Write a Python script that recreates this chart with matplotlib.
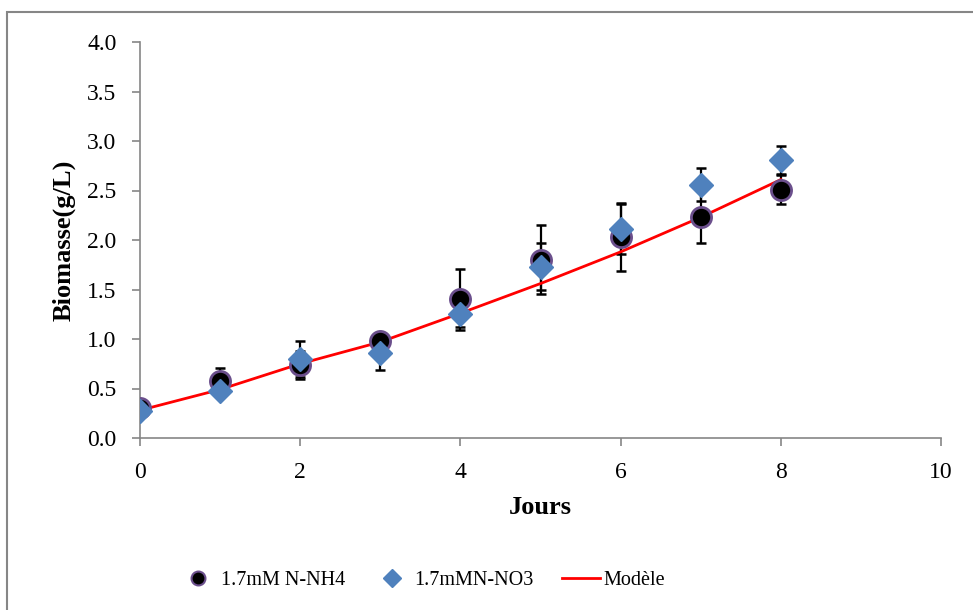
import matplotlib.pyplot as plt
from matplotlib.patches import Rectangle
from matplotlib.lines import Line2D

plt.rcParams.update({
    'font.family': 'Liberation Serif',
    'font.size': 14,
    'figure.dpi': 100,
})

# data
jours = [0, 1, 2, 3, 4, 5, 6, 7, 8]
nh4 = [0.30, 0.58, 0.74, 0.98, 1.40, 1.80, 2.03, 2.23, 2.51]
nh4_err = [0.02, 0.13, 0.14, 0.03, 0.31, 0.35, 0.34, 0.26, 0.15]
no3 = [0.27, 0.47, 0.80, 0.86, 1.25, 1.73, 2.11, 2.56, 2.81]
no3_err = [0.02, 0.03, 0.18, 0.17, 0.13, 0.24, 0.25, 0.17, 0.14]
modele = [0.28, 0.49, 0.75, 0.97, 1.26, 1.56, 1.88, 2.23, 2.61]

gray = '#868686'
purple = '#6b4f8c'
blue = '#4f81bd'

fig = plt.figure(figsize=(9.73, 6.10))
ax = fig.add_axes([140 / 973, 1 - 438 / 610, 801 / 973, 396 / 610])

ax.errorbar(jours, nh4, yerr=nh4_err, fmt='none', ecolor='black', elinewidth=1.6,
            capsize=3.8, capthick=1.8, zorder=2)
ax.errorbar(jours, no3, yerr=no3_err, fmt='none', ecolor='black', elinewidth=1.6,
            capsize=3.8, capthick=1.8, zorder=2)
ax.plot(jours, modele, color='#ff0000', linewidth=2, zorder=3)
ax.plot(jours, nh4, linestyle='none', marker='o', markersize=14.5, markerfacecolor='black',
        markeredgecolor=purple, markeredgewidth=2, zorder=4)
ax.plot(jours, no3, linestyle='none', marker='D', markersize=12, markerfacecolor=blue,
        markeredgecolor=blue, zorder=5)

ax.set_xlim(0, 10)
ax.set_ylim(0, 4.0)
ax.set_xticks(range(0, 11, 2))
ax.set_yticks([i * 0.5 for i in range(9)])
ax.set_yticklabels([f'{i * 0.5:.1f}' for i in range(9)])
ax.tick_params(direction='out', length=5.5, color=gray, width=1.2, labelsize=17)
ax.tick_params(axis='x', pad=12)
ax.tick_params(axis='y', pad=11.5)
for side in ['top', 'right']:
    ax.spines[side].set_visible(False)
for side in ['left', 'bottom']:
    ax.spines[side].set_color(gray)
    ax.spines[side].set_linewidth(1.2)

ax.set_xlabel('Jours', fontsize=19, fontweight='bold', va='center')
ax.set_ylabel('Biomasse(g/L)', fontsize=19, fontweight='bold', va='center')
ax.xaxis.set_label_coords(0.5, (438 - 508) / 396)
ax.yaxis.set_label_coords((64 - 140) / 801, 0.5)

handles = [
    Line2D([], [], linestyle='none', marker='o', markersize=10, markerfacecolor='black',
           markeredgecolor=purple, markeredgewidth=1.5),
    Line2D([], [], linestyle='none', marker='D', markersize=9, markerfacecolor=blue,
           markeredgecolor=blue),
    Line2D([], [], color='#ff0000', linewidth=2),
]
fig.legend(handles, ['1.7mM N-NH4', '1.7mMN-NO3', 'Modèle'], loc='center',
           bbox_to_anchor=(422 / 973, 1 - 580 / 610), ncol=3, frameon=False, fontsize=14.5,
           handlelength=1.9, handletextpad=0.15, columnspacing=1.4)

# outer chart-area border
fig.patches.append(Rectangle((7 / 973, -0.1), 1.2, 1.1 - 12 / 610, transform=fig.transFigure,
                             fill=False, edgecolor=gray, linewidth=1.5))

fig.savefig('out.png', dpi=100)
